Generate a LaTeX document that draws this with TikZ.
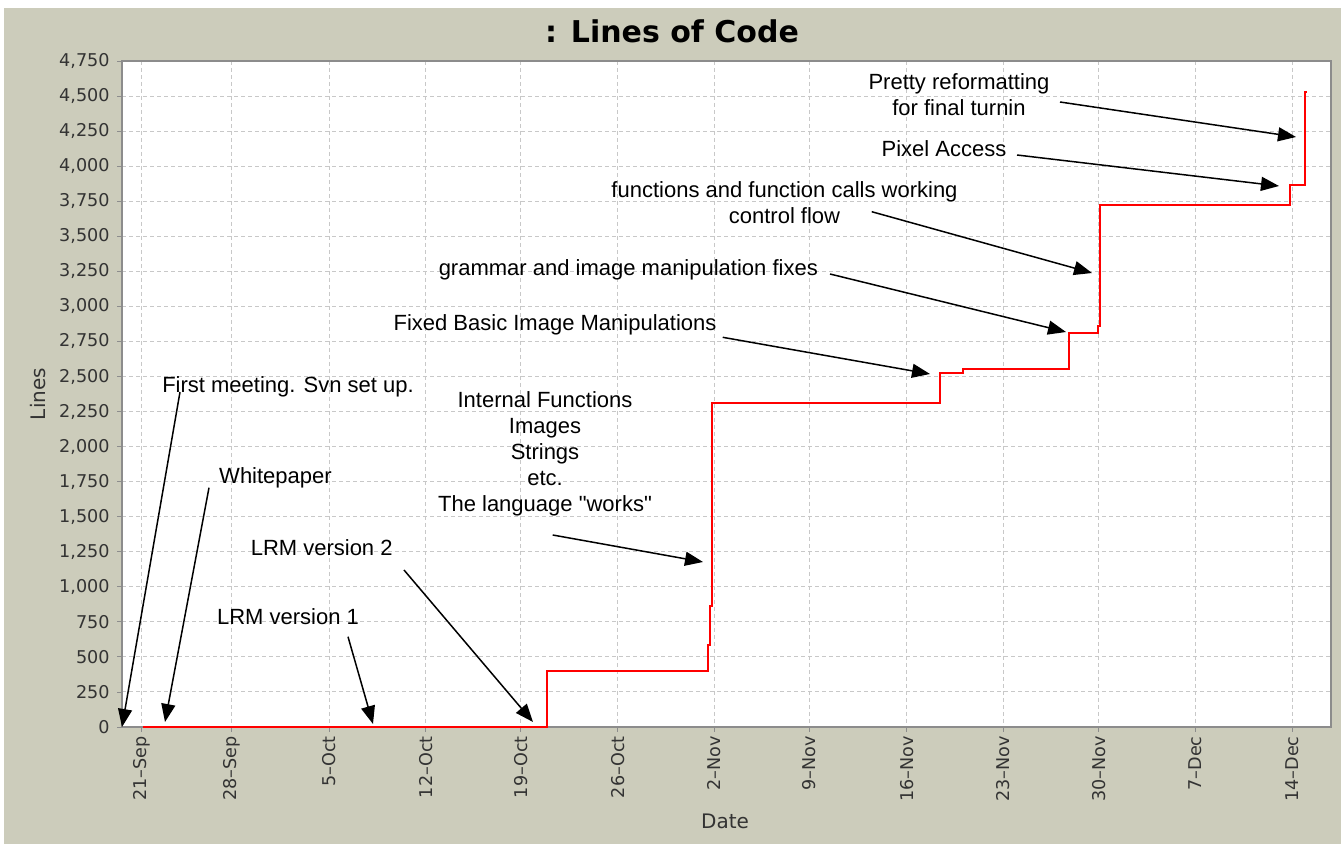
\documentclass[tikz,border=0pt]{standalone}
\usepackage{fontspec}
\setmainfont{Liberation Sans}
\newfontfamily\axisfont{DejaVu Sans}
\usetikzlibrary{arrows.meta}
\definecolor{colPanel}{RGB}{204,204,187}
\definecolor{colGrid}{RGB}{200,200,200}
\definecolor{colAxis}{RGB}{140,140,140}
\colorlet{colLab}{black!80}
\tikzstyle{note}=[font=\fontsize{11}{13}\selectfont, align=center, inner sep=0pt]
\tikzstyle{pointer}=[line width=0.75pt, -{Triangle[length=9pt,width=7pt]}]
\tikzstyle{gridline}=[colGrid, line width=0.5pt, dash pattern=on 2pt off 1.5pt]
\tikzstyle{ylab}=[font=\axisfont\fontsize{8.8}{10}\selectfont, text=colLab, anchor=east, inner sep=0pt]
\tikzstyle{xlab}=[ylab, rotate=90]
\tikzstyle{series}=[red, line width=1pt]

\begin{document}
\begin{tikzpicture}[x=0.5pt, y=-0.5pt]
	\useasboundingbox (0,0) rectangle (1341,844);
	\fill[white] (0,0) rectangle (1341,844);
	\fill[colPanel] (4,8) rectangle (1341,844);
	\fill[white] (122,61) rectangle (1331,727);

	% Grid and y ticks
	\foreach \i/\lab in {0/0, 1/250, 2/500, 3/750, 4/{1,000}, 5/{1,250}, 6/{1,500}, 7/{1,750}, 8/{2,000}, 9/{2,250}, 10/{2,500}, 11/{2,750}, 12/{3,000}, 13/{3,250}, 14/{3,500}, 15/{3,750}, 16/{4,000}, 17/{4,250}, 18/{4,500}, 19/{4,750}} {
		\draw[gridline] (122,727-\i*35.05) -- (1331,727-\i*35.05);
		\draw[colAxis] (117,727-\i*35.05) -- (122,727-\i*35.05);
		\node[ylab] (y\i) at (110,727-\i*35.05) {\lab};
	}
	% Grid and x ticks
	\foreach \x/\d/\m [count=\j] in {141.7/21/Sep, 231.7/28/Sep, 329/5/Oct, 425.7/12/Oct, 520.7/19/Oct, 617.7/26/Oct, 714.3/2/Nov, 809.3/9/Nov, 906.7/16/Nov, 1003.3/23/Nov, 1098.7/30/Nov, 1195/7/Dec, 1292.3/14/Dec} {
		\draw[gridline] (\x,61) -- (\x,727);
		\draw[colAxis] (\x,727) -- (\x,732);
		\node[xlab] (x\j) at (\x,736) {\d\textendash\m};
	}
	\draw[colAxis, line width=0.7pt] (122,61) rectangle (1331,727);

	% Titles
	\node[font=\axisfont\bfseries\fontsize{15}{18}\selectfont] (title) at (672,31) {: Lines of Code};
	\node[font=\axisfont\fontsize{10}{12}\selectfont, text=colLab] (dateLab) at (725,821) {Date};
	\node[font=\axisfont\fontsize{10}{12}\selectfont, text=colLab, rotate=90] (linesLab) at (38,394) {Lines};

	% Lines of code
	\draw[series] (143,727) -- (546.7,727) -- (546.7,671) -- (708.3,671) -- (708.3,645) -- (710.3,645)
		-- (710.3,606) -- (712.3,606) -- (712.3,403) -- (940,403) -- (940,372.7) -- (963.3,372.7)
		-- (963.3,369.3) -- (1068.7,369.3) -- (1068.7,333.3) -- (1098,333.3) -- (1098,326) -- (1100,326)
		-- (1100,205) -- (1290,205) -- (1290,185) -- (1305,185) -- (1305,91.7) -- (1307,91.7);

	% Notes
	\node[note] (first) at (288,387) {First meeting. Svn set up.};
	\node[note] (white) at (275.5,478) {Whitepaper};
	\node[note] (lrmTwo) at (321.7,548) {LRM version 2};
	\node[note] (lrmOne) at (288,617) {LRM version 1};
	\node[note] (internal) at (545,454) {Internal Functions\\Images\\Strings\\etc.\\The language \textquotedbl works\textquotedbl};
	\node[note] (fixed) at (555,325) {Fixed Basic Image Manipulations};
	\node[note] (grammar) at (628.3,270) {grammar and image manipulation fixes};
	\node[note] (funcs) at (784.5,202.5) {functions and function calls working\\control flow};
	\node[note] (pixel) at (944,148.3) {Pixel Access};
	\node[note] (pretty) at (959,94.2) {Pretty reformatting\\for final turnin};

	\coordinate (firstFrom) at (180,392);     \coordinate (firstTo) at (122,727);
	\coordinate (whiteFrom) at (209,487.7);   \coordinate (whiteTo) at (165,722);
	\coordinate (lrmOneFrom) at (348,636.7);  \coordinate (lrmOneTo) at (373,724);
	\coordinate (lrmTwoFrom) at (404,570);    \coordinate (lrmTwoTo) at (533,722);
	\coordinate (internalFrom) at (552.7,535); \coordinate (internalTo) at (703,562);
	\coordinate (fixedFrom) at (722.7,337.3); \coordinate (fixedTo) at (930,374);
	\coordinate (grammarFrom) at (830,274);   \coordinate (grammarTo) at (1066,332);
	\coordinate (funcsFrom) at (871.7,211.7); \coordinate (funcsTo) at (1092,273);
	\coordinate (pixelFrom) at (1017,155);    \coordinate (pixelTo) at (1279,186);
	\coordinate (prettyFrom) at (1060,102);   \coordinate (prettyTo) at (1296,137);

	% Pointers
	\draw[pointer] (firstFrom) -- (firstTo);
	\draw[pointer] (whiteFrom) -- (whiteTo);
	\draw[pointer] (lrmOneFrom) -- (lrmOneTo);
	\draw[pointer] (lrmTwoFrom) -- (lrmTwoTo);
	\draw[pointer] (internalFrom) -- (internalTo);
	\draw[pointer] (fixedFrom) -- (fixedTo);
	\draw[pointer] (grammarFrom) -- (grammarTo);
	\draw[pointer] (funcsFrom) -- (funcsTo);
	\draw[pointer] (pixelFrom) -- (pixelTo);
	\draw[pointer] (prettyFrom) -- (prettyTo);
\end{tikzpicture}
\end{document}
